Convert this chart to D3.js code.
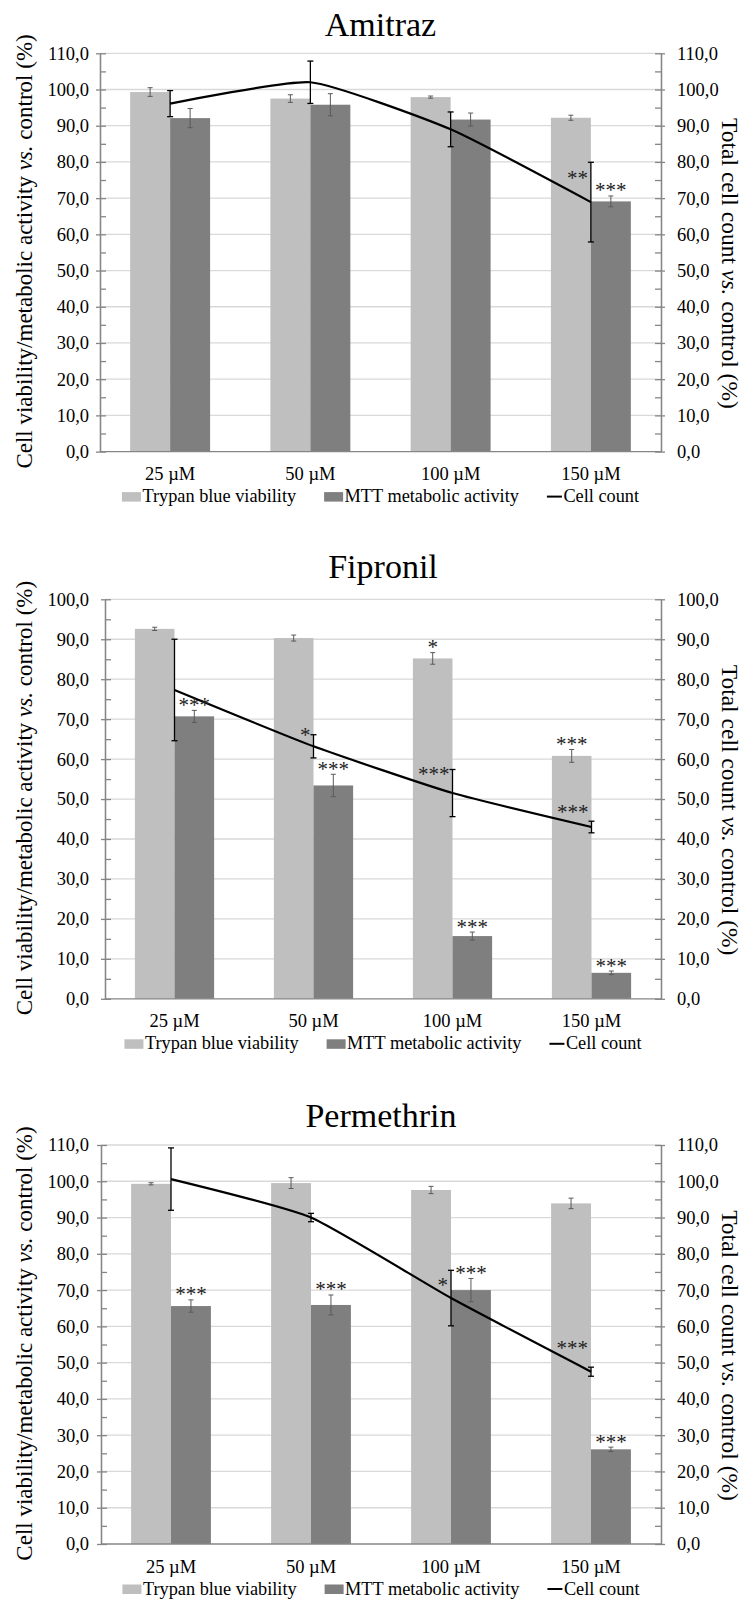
<!DOCTYPE html>
<html><head><meta charset="utf-8">
<script src="https://cdn.jsdelivr.net/npm/d3@7"></script>
<style>
body{margin:0;background:#fff}
svg{display:block}
</style>
</head><body>
<svg id="chart" width="750" height="1603"></svg>
<script>
// ---------- DATA ----------
const categories = ["25 µM", "50 µM", "100 µM", "150 µM"];
const seriesNames = ["Trypan blue viability", "MTT metabolic activity", "Cell count"];
const chartTitles = ["Amitraz", "Fipronil", "Permethrin"];

const yTicks110 = [0, 10, 20, 30, 40, 50, 60, 70, 80, 90, 100, 110];
const yTicks100 = [0, 10, 20, 30, 40, 50, 60, 70, 80, 90, 100];

// Amitraz
const amitrazTrypan = [99.3, 97.5, 97.9, 92.2];
const amitrazTrypanErr = [1.2, 1.05, 0.3, 0.7];
const amitrazMTT = [92.1, 95.8, 91.7, 69.1];
const amitrazMTTErr = [2.65, 3.05, 1.8, 1.5];
const amitrazCount = [96.1, 102.0, 89.0, 68.9];
const amitrazCountErr = [3.6, 5.85, 4.8, 11.0];
const amitrazMarks = [
  {cat: "150 µM", series: "count", text: "**", at: 76.4},
  {cat: "150 µM", series: "mtt", text: "***"}
];

// Fipronil
const fipronilTrypan = [92.6, 90.3, 85.2, 60.8];
const fipronilTrypanErr = [0.4, 0.75, 1.45, 1.6];
const fipronilMTT = [70.7, 53.4, 15.7, 6.5];
const fipronilMTTErr = [1.5, 2.8, 1.0, 0.45];
const fipronilCount = [77.3, 63.2, 51.5, 43.0];
const fipronilCountErr = [12.7, 2.9, 5.9, 1.45];
const fipronilMarks = [
  {cat: "25 µM", series: "mtt", text: "***"},
  {cat: "50 µM", series: "count", text: "*", at: 66.9},
  {cat: "50 µM", series: "mtt", text: "***"},
  {cat: "100 µM", series: "trypan", text: "*"},
  {cat: "100 µM", series: "count", text: "***", at: 56.9},
  {cat: "100 µM", series: "mtt", text: "***"},
  {cat: "150 µM", series: "trypan", text: "***"},
  {cat: "150 µM", series: "count", text: "***", at: 47.4},
  {cat: "150 µM", series: "mtt", text: "***"}
];

// Permethrin
const permethrinTrypan = [99.3, 99.5, 97.6, 93.9];
const permethrinTrypanErr = [0.3, 1.5, 1.0, 1.45];
const permethrinMTT = [65.6, 65.9, 70.0, 26.1];
const permethrinMTTErr = [1.7, 2.75, 3.2, 0.6];
const permethrinCount = [100.6, 90.0, 67.8, 47.5];
const permethrinCountErr = [8.6, 1.15, 7.65, 1.25];
const permethrinMarks = [
  {cat: "25 µM", series: "mtt", text: "***"},
  {cat: "50 µM", series: "mtt", text: "***"},
  {cat: "100 µM", series: "count", text: "*", at: 72.3},
  {cat: "100 µM", series: "mtt", text: "***"},
  {cat: "150 µM", series: "count", text: "***", at: 54.9},
  {cat: "150 µM", series: "mtt", text: "***"}
];

// ---------- LAYOUT ----------
const layouts = [
  {left: 100, right: 661, top: 53.3, bottom: 451.6, titleY: 36},
  {left: 105, right: 661, top: 599.3, bottom: 998.8, titleY: 578},
  {left: 101, right: 661, top: 1145, bottom: 1544, titleY: 1127}
];

const charts = [
  {title: chartTitles[0], ticks: yTicks110, trypan: amitrazTrypan, trypanErr: amitrazTrypanErr,
   mtt: amitrazMTT, mttErr: amitrazMTTErr, count: amitrazCount, countErr: amitrazCountErr, marks: amitrazMarks},
  {title: chartTitles[1], ticks: yTicks100, trypan: fipronilTrypan, trypanErr: fipronilTrypanErr,
   mtt: fipronilMTT, mttErr: fipronilMTTErr, count: fipronilCount, countErr: fipronilCountErr, marks: fipronilMarks},
  {title: chartTitles[2], ticks: yTicks110, trypan: permethrinTrypan, trypanErr: permethrinTrypanErr,
   mtt: permethrinMTT, mttErr: permethrinMTTErr, count: permethrinCount, countErr: permethrinCountErr, marks: permethrinMarks}
];

const FONT = "'Liberation Serif', 'Times New Roman', Times, serif";
const COL_TRYPAN = "#bfbfbf", COL_MTT = "#7f7f7f", COL_GRID = "#d9d9d9", COL_AXIS = "#868686";
const SMALL = 18.5;
const fmt = d => d.toFixed(1).replace(".", ",");

const svg = d3.select("#chart");
svg.append("rect").attr("width", 750).attr("height", 1603).attr("fill", "#fff");

charts.forEach((c, i) => {
  const L = layouts[i];
  const g = svg.append("g");
  const maxV = d3.max(c.ticks);
  const x = d3.scaleBand().domain(categories).range([L.left, L.right]).paddingInner(0.43).paddingOuter(0.215);
  const xs = d3.scaleBand().domain(["trypan", "mtt"]).range([0, x.bandwidth()]);
  const y = d3.scaleLinear().domain([0, maxV]).range([L.bottom, L.top]);
  const minor = d3.range(0, maxV + 0.1, 5);

  g.append("g").selectAll("line").data(c.ticks.filter(t => t > 0)).join("line")
    .attr("x1", L.left).attr("x2", L.right).attr("y1", d => y(d)).attr("y2", d => y(d))
    .attr("stroke", COL_GRID).attr("stroke-width", 1.3);

  const rows = categories.map((cat, k) => ({cat, trypan: c.trypan[k], trypanErr: c.trypanErr[k],
    mtt: c.mtt[k], mttErr: c.mttErr[k], count: c.count[k], countErr: c.countErr[k]}));
  ["trypan", "mtt"].forEach(s => {
    g.append("g").selectAll("rect").data(rows).join("rect")
      .attr("x", d => x(d.cat) + xs(s)).attr("width", xs.bandwidth())
      .attr("y", d => y(d[s])).attr("height", d => y(0) - y(d[s]))
      .attr("fill", s === "trypan" ? COL_TRYPAN : COL_MTT);
  });

  ["trypan", "mtt"].forEach(s => {
    const eg = g.append("g").attr("stroke", "#5a5a5a").attr("stroke-width", 1);
    rows.forEach(d => {
      const cx = x(d.cat) + xs(s) + xs.bandwidth() / 2;
      const y1 = y(d[s] + d[s + "Err"]), y2 = y(d[s] - d[s + "Err"]);
      eg.append("line").attr("x1", cx).attr("x2", cx).attr("y1", y1).attr("y2", y2);
      eg.append("line").attr("x1", cx - 2.5).attr("x2", cx + 2.5).attr("y1", y1).attr("y2", y1);
      eg.append("line").attr("x1", cx - 2.5).attr("x2", cx + 2.5).attr("y1", y2).attr("y2", y2);
    });
  });

  const axL = g.append("g").attr("transform", `translate(${L.left},0)`)
    .call(d3.axisLeft(y).tickValues(c.ticks).tickSize(4).tickSizeOuter(0).tickPadding(L.left - 93).tickFormat(fmt));
  const axLi = g.append("g").attr("transform", `translate(${L.left},0)`)
    .call(d3.axisRight(y).tickValues(minor).tickSize(6).tickSizeOuter(0).tickFormat(""));
  const axR = g.append("g").attr("transform", `translate(${L.right},0)`)
    .call(d3.axisRight(y).tickValues(c.ticks).tickSize(4).tickSizeOuter(0).tickPadding(12).tickFormat(fmt));
  const axRi = g.append("g").attr("transform", `translate(${L.right},0)`)
    .call(d3.axisLeft(y).tickValues(minor).tickSize(6).tickSizeOuter(0).tickFormat(""));
  [axL, axLi, axR, axRi].forEach(a => {
    a.attr("font-family", null).attr("font-size", null);
    a.selectAll("path,line").attr("stroke", COL_AXIS).attr("stroke-width", 1.3);
    a.selectAll("text").attr("font-size", SMALL).attr("fill", "#000");
  });
  g.append("line").attr("x1", L.left).attr("x2", L.right).attr("y1", y(0)).attr("y2", y(0))
    .attr("stroke", COL_AXIS).attr("stroke-width", 1.3);

  g.append("g").selectAll("text").data(categories).join("text")
    .attr("x", d => x(d) + x.bandwidth() / 2).attr("y", L.bottom + 28.5)
    .attr("text-anchor", "middle").attr("font-size", SMALL).text(d => d);

  const lx = d => x(d.cat) + x.bandwidth() / 2;
  g.append("path").datum(rows)
    .attr("d", d3.line().x(lx).y(d => y(d.count)).curve(d3.curveCardinal.tension(0.5)))
    .attr("fill", "none").attr("stroke", "#000").attr("stroke-width", 2.2);
  const le = g.append("g").attr("stroke", "#000").attr("stroke-width", 1.3);
  rows.forEach(d => {
    const cx = lx(d), y1 = y(d.count + d.countErr), y2 = y(d.count - d.countErr);
    le.append("line").attr("x1", cx).attr("x2", cx).attr("y1", y1).attr("y2", y2);
    le.append("line").attr("x1", cx - 3).attr("x2", cx + 3).attr("y1", y1).attr("y2", y1);
    le.append("line").attr("x1", cx - 3).attr("x2", cx + 3).attr("y1", y2).attr("y2", y2);
  });

  const mg = g.append("g");
  c.marks.forEach(m => {
    const r = rows.find(d => d.cat === m.cat);
    if (m.series === "count") {
      mg.append("text").attr("x", lx(r) - 3).attr("y", y(m.at) + 10)
        .attr("text-anchor", "end").attr("font-size", 21).attr("fill", "#222").text(m.text);
    } else {
      const cx = x(r.cat) + xs(m.series) + xs.bandwidth() / 2;
      const top = y(r[m.series] + r[m.series + "Err"]);
      mg.append("text").attr("x", cx).attr("y", top - 8.5 + 10)
        .attr("text-anchor", "middle").attr("font-size", 21).attr("fill", "#222").text(m.text);
    }
  });

  g.append("text").attr("x", (L.left + L.right) / 2).attr("y", L.titleY)
    .attr("text-anchor", "middle").attr("font-size", 34).text(c.title);

  const cy = (L.top + L.bottom) / 2;
  const lt = g.append("text").attr("transform", `translate(32,${cy - 1}) rotate(-90)`)
    .attr("text-anchor", "middle").attr("font-size", 23);
  lt.append("tspan").text("Cell viability/metabolic activity ");
  lt.append("tspan").attr("font-style", "italic").text("vs.");
  lt.append("tspan").text(" control (%)");
  const rt = g.append("text").attr("transform", `translate(722,${cy + 11}) rotate(90)`)
    .attr("text-anchor", "middle").attr("font-size", 23.5);
  rt.append("tspan").text("Total cell count ");
  rt.append("tspan").attr("font-style", "italic").text("vs.");
  rt.append("tspan").text(" control (%)");

  const ly = L.bottom + 50.5;
  const leg = g.append("g");
  const items = [];
  seriesNames.forEach((name, k) => {
    const it = leg.append("g");
    if (k < 2) {
      it.append("rect").attr("x", 0).attr("y", ly - 10).attr("width", 19).attr("height", 9.5)
        .attr("fill", k === 0 ? COL_TRYPAN : COL_MTT);
    } else {
      it.append("line").attr("x1", 0).attr("x2", 15).attr("y1", ly - 5.5).attr("y2", ly - 5.5)
        .attr("stroke", "#000").attr("stroke-width", 2);
    }
    it.append("text").attr("x", k < 2 ? 20.5 : 16.5).attr("y", ly).attr("font-size", 18.3)
      .style("font-family", FONT).text(name);
    items.push({g: it, off: (k < 2 ? 20.5 : 16.5)});
  });
  items.forEach(d => { d.w = d.off + d.g.select("text").node().getComputedTextLength(); });
  const gap = 28;
  const total = d3.sum(items, d => d.w) + gap * (items.length - 1);
  let cur = (L.left + L.right) / 2 - total / 2;
  items.forEach(d => { d.g.attr("transform", `translate(${cur},0)`); cur += d.w + gap; });
});
svg.selectAll("text").style("font-family", FONT);
</script>
</body></html>
